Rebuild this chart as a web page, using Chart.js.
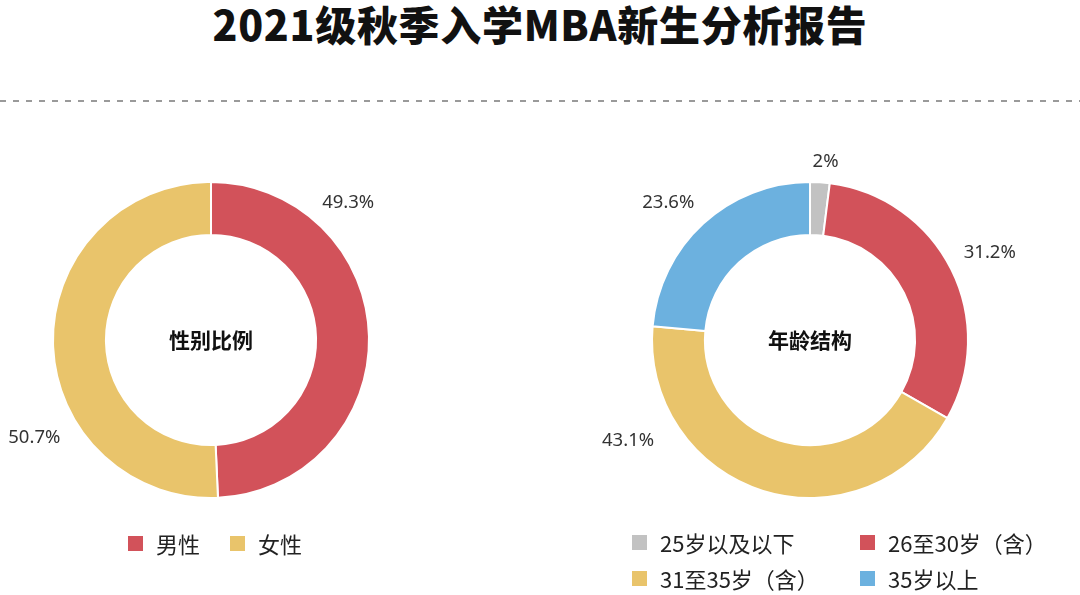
<!DOCTYPE html>
<html>
<head>
<meta charset="utf-8">
<script src="https://cdn.jsdelivr.net/npm/chart.js@4"></script>
<style>
    body { margin: 0; width: 1080px; height: 595px; background: #fff; position: relative; overflow: hidden;
           font-family: "Noto Sans CJK SC", "Noto Sans", sans-serif; }
    h1 { position: absolute; left: 0; right: 0; top: -7px; margin: 0; text-align: center;
         font-size: 41px; font-weight: 900; color: #111; letter-spacing: 0.7px; }
    .rule { position: absolute; left: 0; right: 0; top: 100px; height: 2px;
            background: repeating-linear-gradient(to right, #9a9a9a 0 6px, transparent 6px 13px); }
    .chart-box { position: absolute; top: 120px; width: 420px; height: 440px; }
    .legend { position: absolute; display: grid; row-gap: 3px; font-size: 22px; color: #222; line-height: 33px; }
    .legend-item { display: flex; align-items: center; white-space: nowrap; }
    .swatch { width: 15px; height: 15px; margin-right: 13px; }
</style>
</head>
<body>
<h1>2021级秋季入学MBA新生分析报告</h1>
<div class="rule"></div>

<div class="chart-box" style="left:1px"><canvas id="gender-chart"></canvas></div>
<div class="chart-box" style="left:600px"><canvas id="age-chart"></canvas></div>

<div class="legend" id="gender-legend" style="left:128px; top:527px; grid-template-columns: 102px 100px;"></div>
<div class="legend" id="age-legend" style="left:632px; top:526px; grid-template-columns: 228px 200px;"></div>

<script>
// Data
const genderLabels = ['男性', '女性'];
const genderValues = [49.3, 50.7];
const genderColors = ['#d2525a', '#e9c46b'];

const ageLabels = ['25岁以及以下', '26至30岁（含）', '31至35岁（含）', '35岁以上'];
const ageValues = [2, 31.2, 43.1, 23.6];
const ageColors = ['#c2c2c2', '#d2525a', '#e9c46b', '#6cb1df'];

// where the percentage labels sit around each ring (degrees clockwise from top, px beyond the ring)
const genderLabelAngles = [45, 241];
const genderLabelOffsets = [36, 44];
const ageLabelAngles = [5, 64, 241, 314];
const ageLabelOffsets = [21, 42, 50, 39];

// -------------------------------------------------------------------------
// Plugins
// -------------------------------------------------------------------------

const centerTextPlugin = {
    id: 'centerText',
    afterDraw(chart) {
        const text = chart.options.plugins.centerText.text;
        const meta = chart.getDatasetMeta(0);
        if (!meta.data.length) return;
        const { x, y } = meta.data[0];
        const ctx = chart.ctx;
        ctx.save();
        ctx.font = 'bold 21px "Noto Sans CJK SC"';
        ctx.fillStyle = '#111';
        ctx.textAlign = 'center';
        ctx.textBaseline = 'middle';
        ctx.fillText(text, x, y);
        ctx.restore();
    }
};

const outerLabelPlugin = {
    id: 'outerLabels',
    afterDatasetsDraw(chart) {
        const opts = chart.options.plugins.outerLabels;
        const meta = chart.getDatasetMeta(0);
        const values = chart.data.datasets[0].data;
        const ctx = chart.ctx;
        ctx.save();
        ctx.font = '18.5px "Noto Sans", "DejaVu Sans"';
        ctx.fillStyle = '#333';
        ctx.textAlign = 'center';
        ctx.textBaseline = 'middle';
        meta.data.forEach((arc, i) => {
            const a = opts.angles[i] * Math.PI / 180;
            const r = arc.outerRadius + opts.offsets[i];
            ctx.fillText(values[i] + '%', arc.x + r * Math.sin(a), arc.y - r * Math.cos(a));
        });
        ctx.restore();
    }
};

// -------------------------------------------------------------------------
// Charts
// -------------------------------------------------------------------------

function renderDonut(id, labels, values, colors, centerText, labelAngles, labelOffsets) {
    const ctx = document.getElementById(id);
    return new Chart(ctx, {
        type: 'doughnut',
        data: {
            labels: labels,
            datasets: [{
                data: values,
                backgroundColor: colors,
                borderColor: '#fff',
                borderWidth: 2,
                radius: 158
            }]
        },
        options: {
            responsive: true,
            maintainAspectRatio: false,
            animation: false,
            cutout: '66.5%',
            plugins: {
                legend: { display: false },
                tooltip: { enabled: false },
                centerText: { text: centerText },
                outerLabels: { angles: labelAngles, offsets: labelOffsets }
            }
        },
        plugins: [centerTextPlugin, outerLabelPlugin]
    });
}

function renderLegend(id, labels, colors) {
    const el = document.getElementById(id);
    el.innerHTML = labels.map((l, i) =>
        `<div class="legend-item"><span class="swatch" style="background:${colors[i]}"></span>${l}</div>`
    ).join('');
}

renderDonut('gender-chart', genderLabels, genderValues, genderColors, '性别比例', genderLabelAngles, genderLabelOffsets);
renderDonut('age-chart', ageLabels, ageValues, ageColors, '年龄结构', ageLabelAngles, ageLabelOffsets);
renderLegend('gender-legend', genderLabels, genderColors);
renderLegend('age-legend', ageLabels, ageColors);
</script>
</body>
</html>
